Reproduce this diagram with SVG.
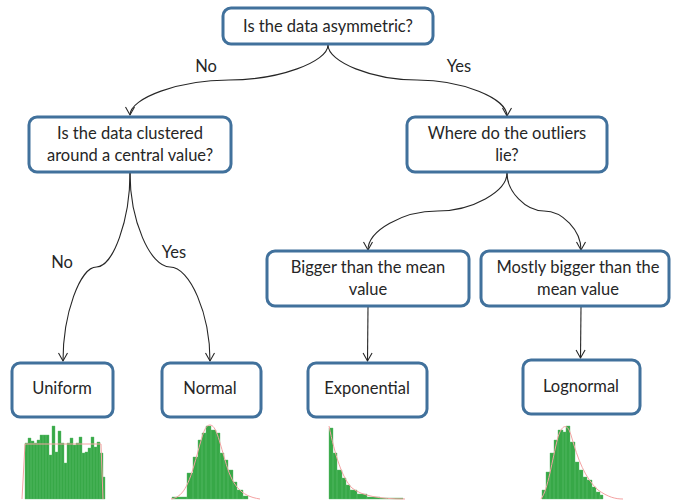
<svg xmlns="http://www.w3.org/2000/svg" width="673" height="502" viewBox="0 0 673 502">
<style>
.box{fill:#fff;stroke:#41719C;stroke-width:3}
.t{font-family:Lato,"Open Sans","Liberation Sans",sans-serif;font-size:16.5px;fill:#262626;text-anchor:middle}
.c{fill:none;stroke:#262626;stroke-width:1.1}
.bar{fill:#37A847;stroke:#5cbd6a;stroke-width:0.4}
.pdf{fill:none;stroke:#F4A3A3;stroke-width:1}
</style>
<defs>
<marker id="arr" markerUnits="userSpaceOnUse" markerWidth="12" markerHeight="12" viewBox="-10 -6 12 12" refX="0" refY="0" orient="auto">
<path d="M-8,-4.5 L0,0 L-8,4.5" fill="none" stroke="#262626" stroke-width="1.1"/>
</marker>
</defs>
<rect width="673" height="502" fill="#fff"/>

<g id="connectors">
<path class="c" marker-end="url(#arr)" d="M328,45 C328,62 278.5,80 229,80 C179.5,80 130,98 130,115"/>
<path class="c" marker-end="url(#arr)" d="M328,45 C328,62 372.5,80 417,80 C461.5,80 507,98 507,116"/>
<path class="c" marker-end="url(#arr)" d="M130,173 C130,220 113,267 96.5,267 C80,267 63,314 63,361"/>
<path class="c" marker-end="url(#arr)" d="M130,173 C130,220 150,267 170,267 C190,267 210,314 210,361"/>
<path class="c" marker-end="url(#arr)" d="M507,173 C507,191.5 472.25,211 437.5,211 C402.75,211 368,230.5 368,250"/>
<path class="c" marker-end="url(#arr)" d="M507,173 C507,191.5 525.5,211 544,211 C562.5,211 581,230.5 581,250"/>
<path class="c" marker-end="url(#arr)" d="M368,307 L367.5,361"/>
<path class="c" marker-end="url(#arr)" d="M581,307 L580.5,358"/>
</g>

<g id="edge-labels">
<text class="t" x="206" y="72">No</text>
<text class="t" x="459" y="72">Yes</text>
<text class="t" x="62" y="268">No</text>
<text class="t" x="174" y="258">Yes</text>
</g>

<g id="n-asym">
<rect class="box" x="223" y="8" width="210" height="36" rx="8"/>
<text class="t" x="328" y="32">Is the data asymmetric?</text>
</g>
<g id="n-clustered">
<rect class="box" x="29" y="117" width="202" height="55" rx="8"/>
<text class="t" x="130" y="139">Is the data clustered</text>
<text class="t" x="130" y="161">around a central value?</text>
</g>
<g id="n-outliers">
<rect class="box" x="407" y="117" width="200" height="55" rx="8"/>
<text class="t" x="507" y="139">Where do the outliers</text>
<text class="t" x="507" y="161">lie?</text>
</g>
<g id="n-bigger">
<rect class="box" x="267" y="251" width="202" height="55" rx="8"/>
<text class="t" x="368" y="273">Bigger than the mean</text>
<text class="t" x="368" y="295">value</text>
</g>
<g id="n-mostly">
<rect class="box" x="481" y="251" width="188" height="55" rx="8"/>
<text class="t" x="578" y="273">Mostly bigger than the</text>
<text class="t" x="578" y="295">mean value</text>
</g>
<g id="n-uniform">
<rect class="box" x="12" y="363" width="101" height="54" rx="8"/>
<text class="t" x="62" y="394">Uniform</text>
</g>
<g id="n-normal">
<rect class="box" x="162" y="363" width="99" height="54" rx="8"/>
<text class="t" x="210" y="394">Normal</text>
</g>
<g id="n-exponential">
<rect class="box" x="308" y="363" width="119" height="54" rx="8"/>
<text class="t" x="367" y="394">Exponential</text>
</g>
<g id="n-lognormal">
<rect class="box" x="523" y="360" width="117" height="54" rx="8"/>
<text class="t" x="581" y="392">Lognormal</text>
</g>

<g id="hist-uniform">
<path class="bar" d="M25,443H28V499H25Z M28,438H31V499H28Z M31,441H34V499H31Z M34,443H37V499H34Z M37,440H40V499H37Z M40,435H43V499H40Z M43,435H46V499H43Z M46,435H49V499H46Z M49,455H52V499H49Z M52,426H55V499H52Z M55,452H58V499H55Z M58,431H61V499H58Z M61,443H64V499H61Z M64,463H67V499H64Z M67,443H70V499H67Z M70,438H73V499H70Z M73,445H76V499H73Z M76,443H79V499H76Z M79,437H82V499H79Z M82,453H85V499H82Z M85,452H88V499H85Z M88,448H91V499H88Z M91,437H94V499H91Z M94,447H97V499H94Z M97,442H100V499H97Z M100,453H103V499H100Z M103,477H105V499H103Z"/>
<path class="pdf" d="M22,499 L25,444 L101,444 L103,499"/>
</g>
<g id="hist-normal">
<path class="bar" d="M172,497H187V499H172Z M187,473H193V499H187Z M193,457H198V499H193Z M198,440H202V499H198Z M202,433H206V499H202Z M206,426H211V499H206Z M211,430H216V499H211Z M216,433H220V499H216Z M220,453H224V499H220Z M224,460H228V499H224Z M228,470H233V499H228Z M233,482H237V499H233Z M237,490H243V499H237Z M243,496H248V499H243Z"/>
<path class="pdf" d="M171,499 C185,497 190,480 197,455 C203,433 205,425 210,425 C216,425 219,440 225,460 C232,485 240,496 260,499"/>
</g>
<g id="hist-exponential">
<path class="bar" d="M329,428H333V499H329Z M333,453H337V499H333Z M337,470H342V499H337Z M342,478H346V499H342Z M346,485H350V499H346Z M350,490H357V499H350Z M357,494H367V499H357Z M367,497H380V499H367Z M380,498H403V499H380Z"/>
<path class="pdf" d="M329,426 C335,455 342,478 352,488 C362,496 380,499 405,499"/>
</g>
<g id="hist-lognormal">
<path class="bar" d="M542,490H546V499H542Z M546,472H550V499H546Z M550,453H554V499H550Z M554,440H558V499H554Z M558,430H563V499H558Z M563,432H566V499H563Z M566,426H570V499H566Z M570,442H575V499H570Z M575,462H579V499H575Z M579,470H583V499H579Z M583,477H587V499H583Z M587,480H592V499H587Z M592,487H596V499H592Z M596,492H600V499H596Z M600,495H603V499H600Z"/>
<path class="pdf" d="M541,499 C548,490 552,460 558,437 C562,425 567,422 571,435 C578,460 585,478 598,490 C608,497 615,499 623,499"/>
</g>
</svg>
